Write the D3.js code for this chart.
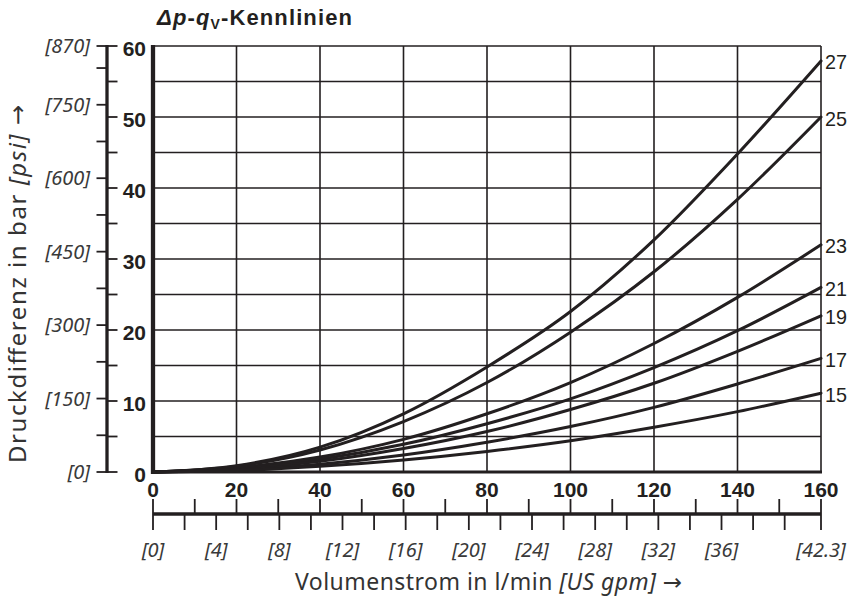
<!DOCTYPE html>
<html>
<head>
<meta charset="utf-8">
<script src="https://cdn.jsdelivr.net/npm/d3@7/dist/d3.min.js"></script>
<style>
  html, body { margin: 0; padding: 0; background: #fff; }
  svg { display: block; font-family: "Liberation Sans", Arial, sans-serif; }
  .lbl { font-family: "Noto Sans", "Liberation Sans", sans-serif; }
  .arr { font-family: "DejaVu Sans", sans-serif; font-style: normal; }
</style>
</head>
<body>
<svg id="chart" width="848" height="602"></svg>
<script>
// ---------- data ----------
const flow = [0, 20, 40, 60, 80, 100, 120, 140, 160];           // l/min
const curve27 = [0, 0.9, 3.5, 8.2, 14.8, 22.6, 32.7, 44.8, 57.9];
const curve25 = [0, 0.8, 3.1, 7.1, 12.6, 19.7, 28.2, 38.4, 50.0];
const curve23 = [0, 0.6, 2.1, 4.6, 8.2, 12.6, 18.1, 24.6, 32.0];
const curve21 = [0, 0.5, 1.8, 3.9, 6.8, 10.3, 14.7, 19.9, 26.0];
const curve19 = [0, 0.4, 1.5, 3.3, 5.7, 8.8, 12.5, 17.0, 22.0];
const curve17 = [0, 0.3, 1.1, 2.4, 4.2, 6.4, 9.1, 12.4, 16.0];
const curve15 = [0, 0.2, 0.8, 1.7, 2.9, 4.4, 6.3, 8.5, 11.1];
const curveLabels = ["27", "25", "23", "21", "19", "17", "15"];
const curveValues = [curve27, curve25, curve23, curve21, curve19, curve17, curve15];

const barTicks = [0, 10, 20, 30, 40, 50, 60];
const barMinorTicks = [0, 5, 10, 15, 20, 25, 30, 35, 40, 45, 50, 55, 60];
const psiTicks = [0, 75, 150, 225, 300, 375, 450, 525, 600, 675, 750, 825, 870];
const psiLabels = [0, 150, 300, 450, 600, 750, 870];
const flowTicks = [0, 20, 40, 60, 80, 100, 120, 140, 160];
const flowMinorTicks = [0, 10, 20, 30, 40, 50, 60, 70, 80, 90, 100, 110, 120, 130, 140, 150, 160];
const gpmTicks = [0, 2, 4, 6, 8, 10, 12, 14, 16, 18, 20, 22, 24, 26, 28, 30, 32, 34, 36, 38, 40, 42.3];
const gpmLabels = [0, 4, 8, 12, 16, 20, 24, 28, 32, 36, 42.3];

// ---------- layout ----------
const svg = d3.select("#chart");
const ink = "#231f20";
const x = d3.scaleLinear().domain([0, 160]).range([153, 821]);
const y = d3.scaleLinear().domain([0, 60]).range([472, 46]);
const psi = d3.scaleLinear().domain([0, 870]).range([472, 46]);
const gpm = d3.scaleLinear().domain([0, 42.3]).range([153, 821]);

// grid
const grid = svg.append("g").attr("stroke", ink).attr("stroke-width", 1.6);
barMinorTicks.filter(v => v > 0).forEach(v => {
  grid.append("line").attr("x1", x(0)).attr("x2", x(160)).attr("y1", y(v)).attr("y2", y(v));
});
flowTicks.filter(v => v > 0).forEach(v => {
  grid.append("line").attr("x1", x(v)).attr("x2", x(v)).attr("y1", y(0)).attr("y2", y(60));
});
// bottom and left frame
svg.append("line").attr("x1", x(0)).attr("x2", x(160) + 1).attr("y1", y(0)).attr("y2", y(0))
  .attr("stroke", ink).attr("stroke-width", 2.8);
svg.append("line").attr("x1", x(0)).attr("x2", x(0)).attr("y1", y(60) - 1).attr("y2", y(0) + 2)
  .attr("stroke", ink).attr("stroke-width", 4.3);

// curves
const line = d3.line().x((d, i) => x(flow[i])).y(d => y(d)).curve(d3.curveMonotoneX);
curveValues.forEach((vals, k) => {
  svg.append("path").attr("d", line(vals)).attr("fill", "none")
    .attr("stroke", ink).attr("stroke-width", 3).attr("stroke-linecap", "round");
  svg.append("text").attr("x", x(160) + 4).attr("y", y(vals[vals.length - 1]) + 1)
    .attr("dy", "0.36em").attr("font-size", 21).attr("fill", ink)
    .attr("textLength", 22).attr("lengthAdjust", "spacingAndGlyphs").text(curveLabels[k]);
});

// left secondary axis (psi | bar)
const axX = 107;
svg.append("line").attr("x1", axX).attr("x2", axX).attr("y1", y(60) - 1).attr("y2", y(0) + 1)
  .attr("stroke", ink).attr("stroke-width", 3.3);
psiTicks.forEach(v => {
  svg.append("line").attr("x1", axX - 10.5).attr("x2", axX).attr("y1", psi(v)).attr("y2", psi(v))
    .attr("stroke", ink).attr("stroke-width", 1.8);
});
barMinorTicks.forEach(v => {
  svg.append("line").attr("x1", axX).attr("x2", axX + 10.5).attr("y1", y(v)).attr("y2", y(v))
    .attr("stroke", ink).attr("stroke-width", 1.8);
});
psiLabels.forEach(v => {
  svg.append("text").attr("class", "lbl").attr("x", 90).attr("y", psi(v)).attr("dy", "0.36em")
    .attr("text-anchor", "end").attr("font-size", 20).attr("font-style", "italic")
    .attr("fill", "#3a3a3a").text("[" + v + "]");
});
barTicks.forEach(v => {
  svg.append("text").attr("x", 146).attr("y", y(v) + 2).attr("dy", "0.36em")
    .attr("text-anchor", "end").attr("font-size", 21).attr("font-weight", "bold")
    .attr("fill", ink).text(v);
});

// x labels (l/min)
flowTicks.forEach(v => {
  svg.append("text").attr("x", x(v)).attr("y", 489).attr("dy", "0.36em")
    .attr("text-anchor", "middle").attr("font-size", 21).attr("font-weight", "bold")
    .attr("fill", ink).text(v);
});

// bottom secondary axis
const axY = 514;
svg.append("line").attr("x1", x(0)).attr("x2", x(160)).attr("y1", axY).attr("y2", axY)
  .attr("stroke", ink).attr("stroke-width", 3.3);
flowMinorTicks.forEach(v => {
  svg.append("line").attr("x1", x(v)).attr("x2", x(v)).attr("y1", axY - 15).attr("y2", axY)
    .attr("stroke", ink).attr("stroke-width", 1.8);
});
gpmTicks.forEach(v => {
  svg.append("line").attr("x1", gpm(v)).attr("x2", gpm(v)).attr("y1", axY).attr("y2", axY + 16)
    .attr("stroke", ink).attr("stroke-width", 1.8);
});
gpmLabels.forEach(v => {
  svg.append("text").attr("class", "lbl").attr("x", gpm(v)).attr("y", 550).attr("dy", "0.36em")
    .attr("text-anchor", "middle").attr("font-size", 20).attr("font-style", "italic")
    .attr("fill", "#3a3a3a").text("[" + v + "]");
});

// axis titles
const xt = svg.append("text").attr("class", "lbl").attr("x", 295).attr("y", 590)
  .attr("font-size", 23).attr("fill", "#333")
  .attr("textLength", 387).attr("lengthAdjust", "spacing");
xt.append("tspan").text("Volumenstrom in l/min ");
xt.append("tspan").attr("font-style", "italic").text("[US gpm]");
xt.append("tspan").text(" ");
xt.append("tspan").attr("class", "arr").text("\u2192");

const yt = svg.append("text").attr("class", "lbl").attr("transform", "translate(26,463) rotate(-90)")
  .attr("font-size", 24).attr("fill", "#333")
  .attr("textLength", 358).attr("lengthAdjust", "spacing");
yt.append("tspan").text("Druckdifferenz in bar ");
yt.append("tspan").attr("font-style", "italic").text("[psi]");
yt.append("tspan").text(" ");
yt.append("tspan").attr("class", "arr").text("\u2192");

// chart title
const tt = svg.append("text").attr("x", 157).attr("y", 25).attr("font-size", 22)
  .attr("font-weight", "bold").attr("fill", ink)
  .attr("textLength", 195).attr("lengthAdjust", "spacing");
tt.append("tspan").attr("font-style", "italic").text("\u0394p");
tt.append("tspan").text("-");
tt.append("tspan").attr("font-style", "italic").text("q");
tt.append("tspan").attr("font-size", 14).attr("dy", 4).text("V");
tt.append("tspan").attr("dy", -4).text("-Kennlinien");
</script>
</body>
</html>
